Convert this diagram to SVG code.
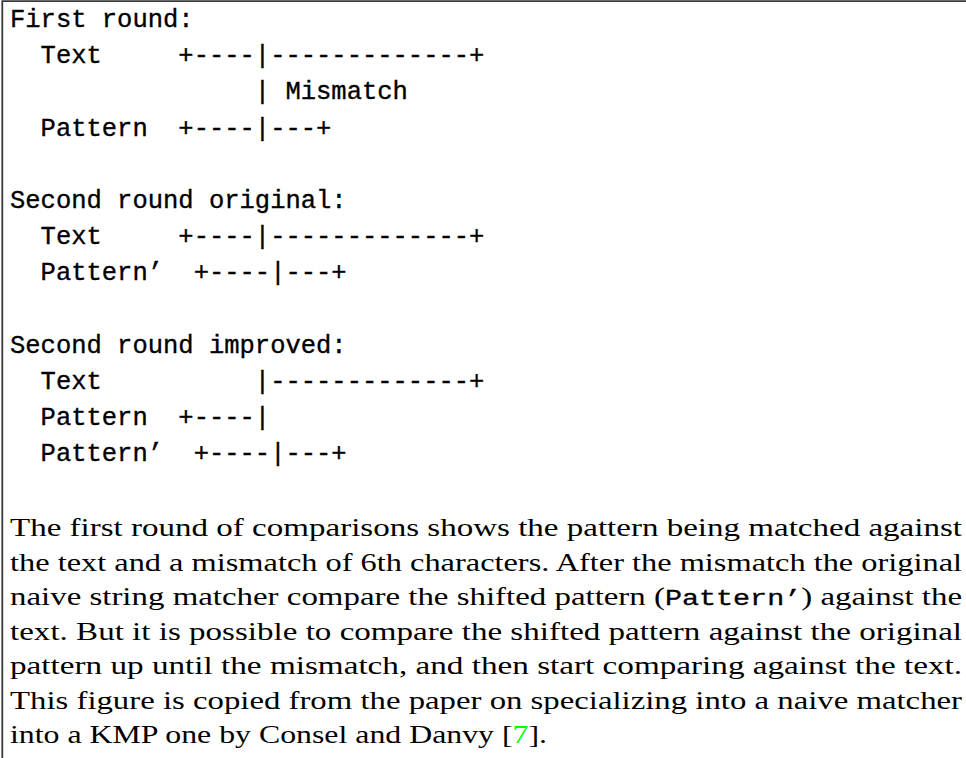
<svg xmlns="http://www.w3.org/2000/svg" width="966" height="758" viewBox="0 0 966 758">
<style>
.mono{font-family:"Liberation Mono","DejaVu Sans Mono",monospace;font-size:25.5px;fill:#000;stroke:#000;stroke-width:0.35;white-space:pre}
.ser{font-family:"Liberation Serif","DejaVu Serif",serif;font-size:25.5px;fill:#000;white-space:pre}
.tt{font-family:"Liberation Mono","DejaVu Sans Mono",monospace;font-size:22px;stroke:#000;stroke-width:0.3}
.cite{fill:#00ff00}
</style>
<rect width="966" height="758" fill="#fff"/>
<path d="M2.3,758 V1.2 H966" fill="none" stroke="#3a3a3a" stroke-width="1.8"/>
<g id="diagram">
<text class="mono" x="10" y="27">First round:</text>
<text class="mono" x="10" y="63.2">  Text     +----|-------------+</text>
<text class="mono" x="10" y="99.4">                | Mismatch</text>
<text class="mono" x="10" y="135.6">  Pattern  +----|---+</text>
<text class="mono" x="10" y="208">Second round original:</text>
<text class="mono" x="10" y="244.2">  Text     +----|-------------+</text>
<text class="mono" x="10" y="280.4">  Pattern’  +----|---+</text>
<text class="mono" x="10" y="352.8">Second round improved:</text>
<text class="mono" x="10" y="389">  Text          |-------------+</text>
<text class="mono" x="10" y="425.2">  Pattern  +----|</text>
<text class="mono" x="10" y="461.4">  Pattern’  +----|---+</text>
</g>
<g id="caption">
<text class="ser" x="10" y="536" textLength="952" lengthAdjust="spacingAndGlyphs">The first round of comparisons shows the pattern being matched against</text>
<text class="ser" x="10" y="570.5" textLength="952" lengthAdjust="spacingAndGlyphs">the text and a mismatch of 6th characters. After the mismatch the original</text>
<text class="ser" x="10" y="605" textLength="952" lengthAdjust="spacingAndGlyphs">naive string matcher compare the shifted pattern (<tspan class="tt">Pattern’</tspan>) against the</text>
<text class="ser" x="10" y="639.5" textLength="952" lengthAdjust="spacingAndGlyphs">text. But it is possible to compare the shifted pattern against the original</text>
<text class="ser" x="10" y="674" textLength="952" lengthAdjust="spacingAndGlyphs">pattern up until the mismatch, and then start comparing against the text.</text>
<text class="ser" x="10" y="708.5" textLength="952" lengthAdjust="spacingAndGlyphs">This figure is copied from the paper on specializing into a naive matcher</text>
<text class="ser" x="10" y="743" textLength="537" lengthAdjust="spacingAndGlyphs">into a KMP one by Consel and Danvy [<tspan class="cite">7</tspan>].</text>
</g>
</svg>
